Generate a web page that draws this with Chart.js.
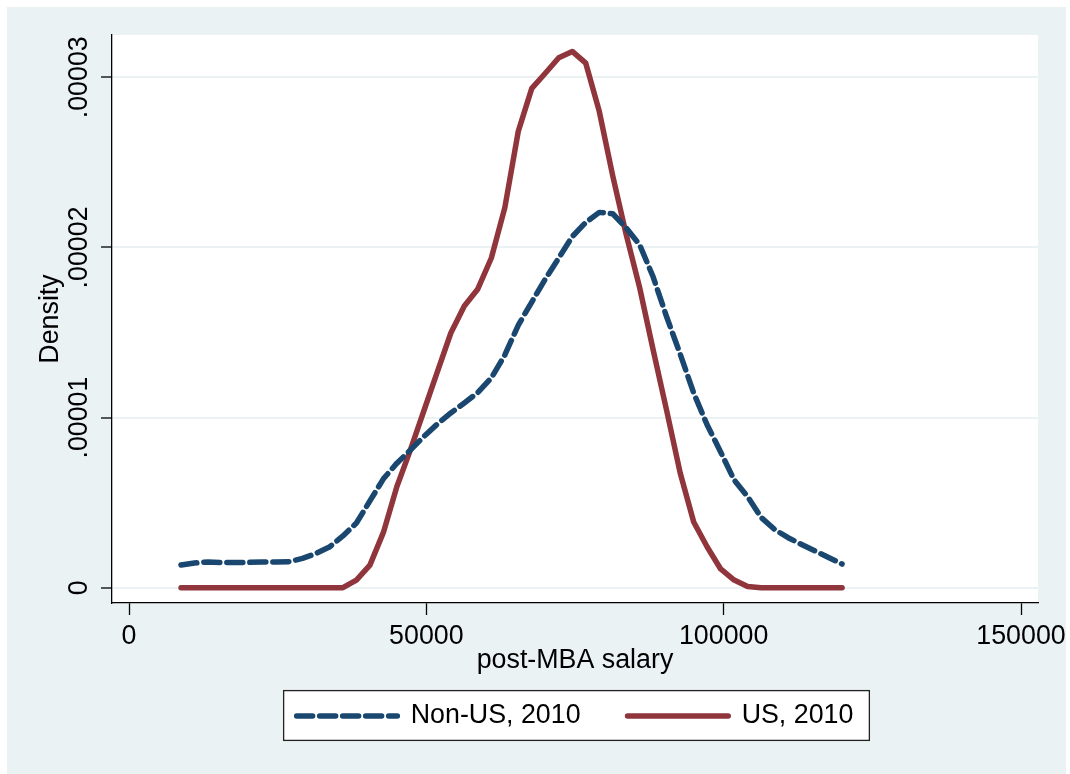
<!DOCTYPE html>
<html>
<head>
<meta charset="utf-8">
<script src="https://cdn.jsdelivr.net/npm/chart.js@4"></script>
<style>
  html, body { margin: 0; padding: 0; background: #fff; }
  #wrap { width: 1070px; height: 774px; position: relative; }
</style>
</head>
<body>
<div id="wrap"><canvas id="c"></canvas></div>
<script>
// kernel density evaluation points (post-MBA salary)
const salary = [
  8750, 11020, 13290, 15560, 17820, 20090, 22360, 24630, 26900, 29170,
  31440, 33700, 35970, 38240, 40510, 42780, 45050, 47320, 49590, 51850,
  54120, 56390, 58660, 60930, 63200, 65470, 67730, 70000, 72270, 74540,
  76810, 79080, 81350, 83610, 85880, 88150, 90420, 92690, 94960, 97230,
  99490, 101760, 104030, 106300, 108570, 110840, 113110, 115370, 117640, 119910
];

const nonUS = [
  1.33e-6, 1.45e-6, 1.51e-6, 1.48e-6, 1.48e-6, 1.49e-6, 1.51e-6, 1.51e-6, 1.53e-6, 1.72e-6,
  2.01e-6, 2.39e-6, 3.04e-6, 3.80e-6, 5.10e-6, 6.40e-6, 7.32e-6, 8.09e-6, 8.89e-6, 9.62e-6,
  1.027e-5, 1.086e-5, 1.147e-5, 1.233e-5, 1.368e-5, 1.544e-5, 1.679e-5, 1.814e-5, 1.938e-5, 2.064e-5,
  2.147e-5, 2.206e-5, 2.198e-5, 2.115e-5, 2.015e-5, 1.826e-5, 1.591e-5, 1.373e-5, 1.144e-5, 9.56e-6,
  7.98e-6, 6.33e-6, 5.35e-6, 4.13e-6, 3.42e-6, 2.94e-6, 2.54e-6, 2.16e-6, 1.78e-6, 1.39e-6
];

const us = [
  0, 0, 0, 0, 0, 0, 0, 0, 0, 0,
  0, 0, 0, 4.5e-7, 1.33e-6, 3.25e-6, 5.95e-6, 8.10e-6, 1.040e-5, 1.268e-5,
  1.497e-5, 1.656e-5, 1.756e-5, 1.938e-5, 2.234e-5, 2.684e-5, 2.935e-5, 3.024e-5, 3.115e-5, 3.152e-5,
  3.083e-5, 2.800e-5, 2.420e-5, 2.075e-5, 1.762e-5, 1.396e-5, 1.040e-5, 6.74e-6, 3.86e-6, 2.39e-6,
  1.10e-6, 4.5e-7, 7e-8, 0, 0, 0, 0, 0, 0, 0
];

const seriesNames = ["Non-US, 2010", "US, 2010"];
const xTicks = [0, 50000, 100000, 150000];
const yTicks = [0, 0.00001, 0.00002, 0.00003];
const yTickLabels = ["0", ".00001", ".00002", ".00003"];

const navy = "#1a476f";
const maroon = "#90353b";
const bluishGray = "#eaf2f3";

Chart.defaults.font.family = "'Liberation Sans', Arial, sans-serif";
Chart.defaults.font.size = 26.8;
Chart.defaults.color = "#000";

// stata-ish backgrounds: grey outer region, white plot region, framed legend
const backdrop = {
  id: "backdrop",
  beforeDraw(chart) {
    const { ctx, chartArea: a, width, height } = chart;
    ctx.save();
    ctx.fillStyle = "#fff";
    ctx.fillRect(0, 0, width, height);
    ctx.fillStyle = bluishGray;
    ctx.fillRect(7, 7, 1059, height - 7);
    ctx.fillStyle = "#fff";
    ctx.fillRect(a.left, a.top, a.right - a.left, a.bottom - a.top);

    const hb = chart.legend && chart.legend.legendHitBoxes;
    if (hb && hb.length) {
      const first = hb[0], last = hb[hb.length - 1];
      const x0 = first.left - 13, x1 = last.left + last.width + 16;
      const y0 = first.top - 12, y1 = first.top + first.height + 11;
      ctx.fillRect(x0, y0, x1 - x0, y1 - y0);
      ctx.strokeStyle = "#222";
      ctx.lineWidth = 1.3;
      ctx.strokeRect(x0, y0, x1 - x0, y1 - y0);
    }
    ctx.restore();
  }
};

const toPoints = (ys) => salary.map((x, i) => ({ x: x, y: ys[i] }));

new Chart(document.getElementById("c"), {
  type: "line",
  data: {
    datasets: [
      {
        label: seriesNames[0],
        data: toPoints(nonUS),
        borderColor: navy,
        backgroundColor: navy,
        borderWidth: 5.5,
        borderDash: [16, 7],
        borderCapStyle: "round",
        borderJoinStyle: "round",
        pointRadius: 0,
        tension: 0
      },
      {
        label: seriesNames[1],
        data: toPoints(us),
        borderColor: maroon,
        backgroundColor: maroon,
        borderWidth: 5.5,
        borderCapStyle: "round",
        borderJoinStyle: "round",
        pointRadius: 0,
        tension: 0
      }
    ]
  },
  options: {
    responsive: true,
    maintainAspectRatio: false,
    animation: false,
    layout: { autoPadding: false, padding: { left: 0, top: 35, right: 32, bottom: 34.6 } },
    plugins: {
      tooltip: { enabled: false },
      legend: {
        position: "bottom",
        fullSize: false,
        labels: {
          usePointStyle: true,
          pointStyle: "line",
          pointStyleWidth: 100.7,
          padding: 47,
          color: "#000",
          generateLabels: (chart) => chart.data.datasets.map((ds, i) => ({
            text: ds.label,
            strokeStyle: ds.borderColor,
            fillStyle: ds.borderColor,
            fontColor: "#000",
            lineWidth: ds.borderWidth,
            lineDash: ds.borderDash || [],
            lineCap: "round",
            pointStyle: "line",
            hidden: false,
            datasetIndex: i
          }))
        }
      }
    },
    scales: {
      x: {
        type: "linear",
        min: -2859,
        max: 152858,
        afterBuildTicks: (s) => { s.ticks = xTicks.map((v) => ({ value: v })); },
        afterFit: (s) => { s.height = 52.6; s.paddingLeft = 0; s.paddingRight = 0; },
        grid: { drawOnChartArea: false, tickLength: 12, tickColor: "#000", tickWidth: 1.3 },
        border: { color: "#000", width: 1.3 },
        ticks: { padding: 5.6, maxRotation: 0, autoSkip: false, callback: (v) => String(v) },
        title: { display: true, text: "post-MBA salary", padding: { top: 0, bottom: -21.5 } }
      },
      y: {
        type: "linear",
        min: -8.99e-7,
        max: 3.2486e-5,
        afterBuildTicks: (s) => { s.ticks = yTicks.map((v) => ({ value: v })); },
        afterFit: (s) => { s.width = 112; s.paddingTop = 0; s.paddingBottom = 0; },
        grid: { color: bluishGray, lineWidth: 2, tickLength: 11, tickColor: "#000", tickWidth: 1.3 },
        border: { color: "#000", width: 1.3 },
        ticks: {
          minRotation: 90,
          maxRotation: 90,
          crossAlign: "center",
          padding: -19.5,
          autoSkip: false,
          callback: (v, i) => yTickLabels[i]
        },
        title: { display: true, text: "Density", padding: { top: 34.4, bottom: 0 } }
      }
    }
  },
  plugins: [backdrop]
});
</script>
</body>
</html>
